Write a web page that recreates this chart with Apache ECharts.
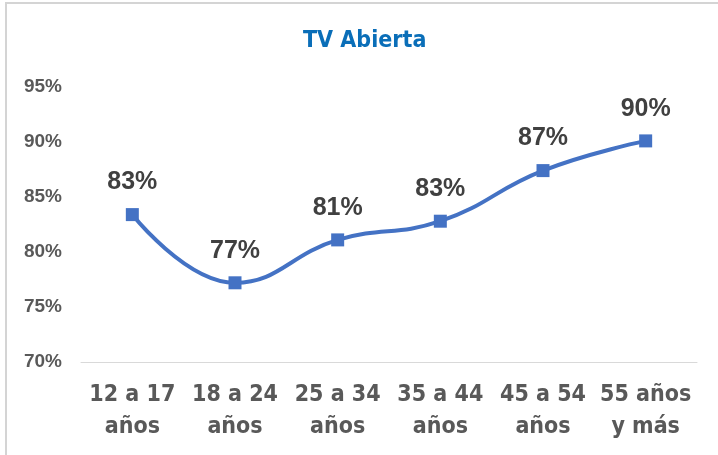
<!DOCTYPE html>
<html>
<head>
<meta charset="utf-8">
<script src="https://cdn.jsdelivr.net/npm/echarts@6/dist/echarts.min.js"></script>
<style>
html,body{margin:0;padding:0;background:#fff;overflow:hidden;width:718px;height:455px;}
#chart{position:absolute;left:0;top:0;width:718px;height:455px;}
#frame{position:absolute;left:5px;top:2px;width:713px;height:453px;border-left:2px solid #d4d4d4;border-top:2px solid #d4d4d4;pointer-events:none;box-sizing:border-box;}
</style>
</head>
<body>
<div id="chart"></div>
<div id="frame"></div>
<script>
const categories = ["12 a 17\naños", "18 a 24\naños", "25 a 34\naños", "35 a 44\naños", "45 a 54\naños", "55 años\ny más"];
const values = [83.4, 77.2, 81.1, 82.8, 87.4, 90.1];
const yTicks = [70, 75, 80, 85, 90, 95];
const title = "TV Abierta";

const chart = echarts.init(document.getElementById('chart'));
chart.setOption({
  animation: false,
  title: {
    text: title,
    left: 298,
    top: 25,
    textStyle: {color: '#0A6EB8', fontSize: 23, fontWeight: 'bold', fontFamily: '"Liberation Sans Narrow","DejaVu Sans Condensed",sans-serif'}
  },
  grid: {left: 81, right: 21, top: 87, bottom: 93},
  xAxis: {
    type: 'category',
    data: categories,
    boundaryGap: true,
    axisLine: {show: true, lineStyle: {color: '#d9d9d9', width: 1}},
    axisTick: {show: false},
    axisLabel: {
      color: '#595959', fontSize: 23, fontWeight: 'bold', lineHeight: 32, margin: 17,
      fontFamily: '"Liberation Sans Narrow","DejaVu Sans Condensed",sans-serif', interval: 0
    }
  },
  yAxis: {
    type: 'value',
    min: yTicks[0],
    max: yTicks[yTicks.length - 1],
    interval: 5,
    splitLine: {show: false},
    axisLine: {show: false},
    axisTick: {show: false},
    axisLabel: {
      color: '#595959', fontSize: 19, fontWeight: 'bold', margin: 19,
      fontFamily: '"Liberation Sans",Arial,sans-serif',
      formatter: v => v + '%'
    }
  },
  series: [{
    type: 'line',
    data: values,
    smooth: 0.45,
    symbol: 'rect',
    symbolSize: 13,
    lineStyle: {color: '#4472C4', width: 4},
    itemStyle: {color: '#4472C4'},
    label: {
      show: true, position: 'top', distance: 13,
      color: '#404040', fontSize: 25, fontWeight: 'bold',
      fontFamily: '"Liberation Sans",Arial,sans-serif',
      formatter: p => Math.round(p.value) + '%'
    }
  }]
});
</script>
</body>
</html>
